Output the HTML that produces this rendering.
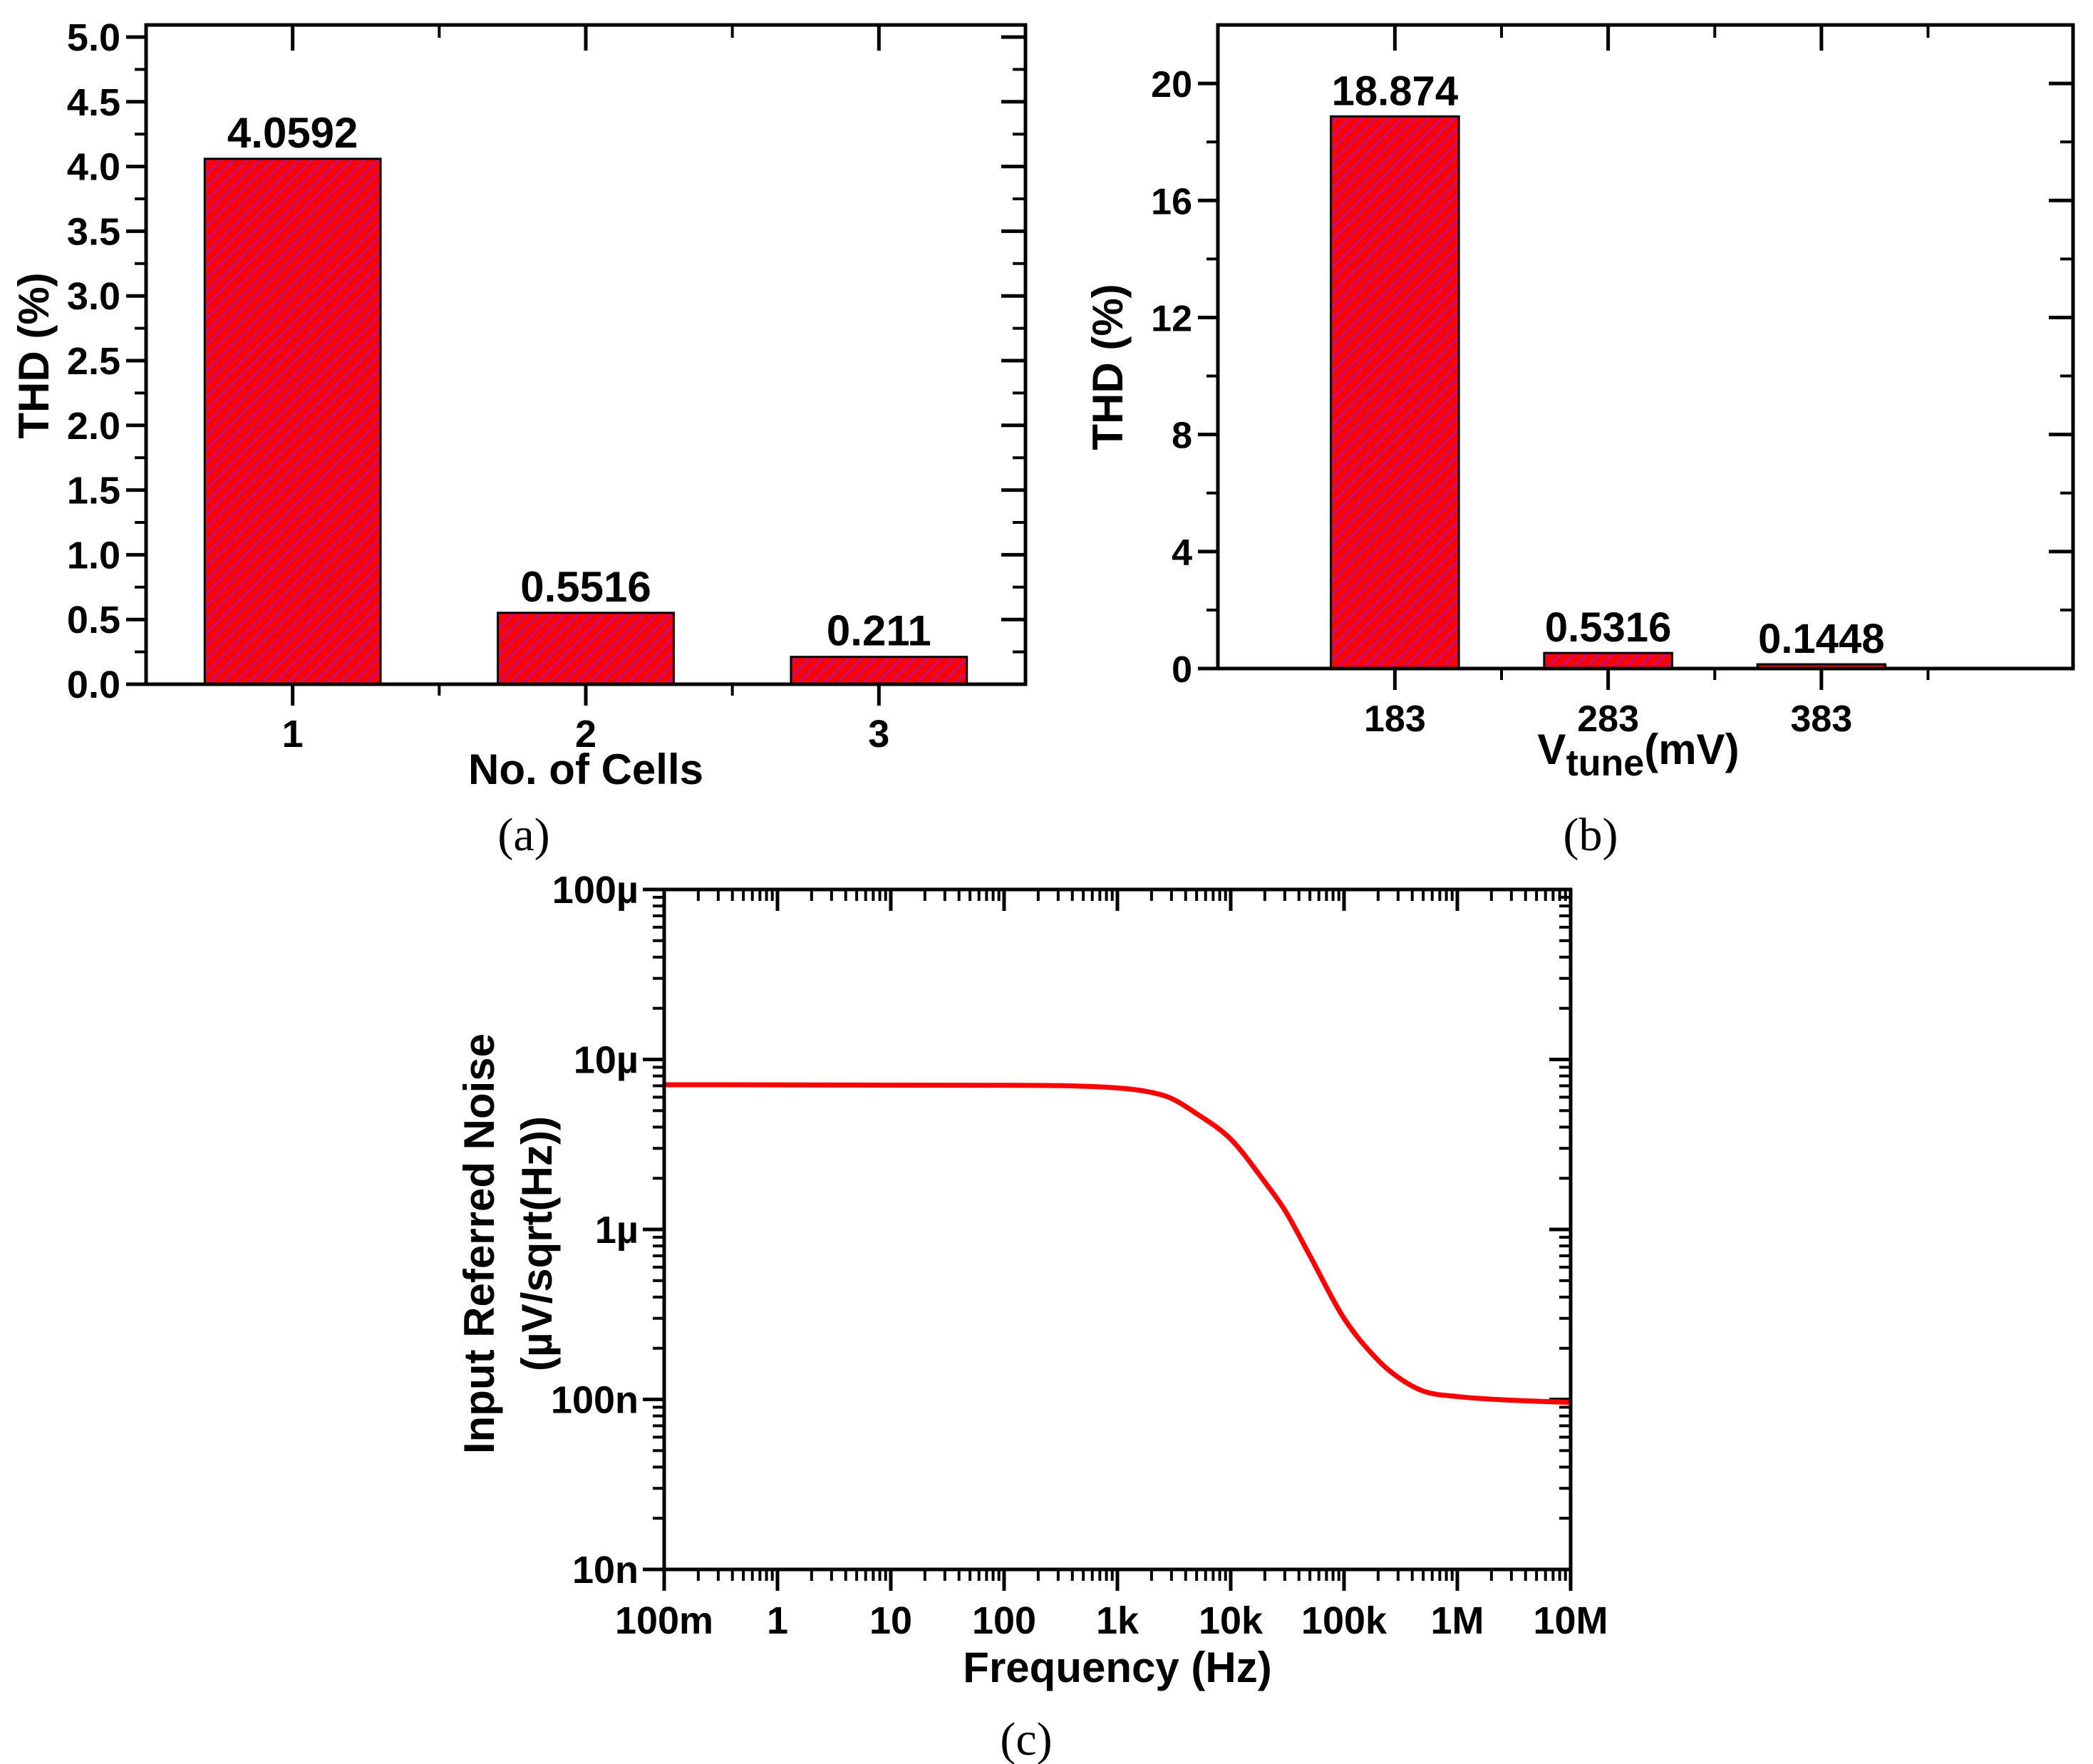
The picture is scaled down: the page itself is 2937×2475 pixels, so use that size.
<!DOCTYPE html>
<html><head><meta charset="utf-8"><style>
html,body{margin:0;padding:0;background:#fff;}
svg{display:block;}
text{font-family:"Liberation Sans",Arial,sans-serif;font-weight:bold;fill:#000;}
.serif{font-family:"Liberation Serif","Times New Roman",serif;font-weight:normal;}
</style></head><body>
<svg id="fig" width="2937" height="2475" viewBox="0 0 2937 2475" xmlns="http://www.w3.org/2000/svg">
<defs>
<pattern id="hatch" patternUnits="userSpaceOnUse" width="13" height="13" patternTransform="rotate(45)">
<rect width="13" height="13" fill="#ff0000"/>
<line x1="0" y1="0" x2="0" y2="13" stroke="#8a1cff" stroke-width="3"/>
</pattern>
</defs>
<g id="chartA"></g>
<g id="chartB"></g>
<g id="chartC"></g>
</svg>
<script>
// ---- Chart (a) data ----
const catsA = ["1","2","3"];
const valsA = [4.0592, 0.5516, 0.211];
const labelsA = ["4.0592","0.5516","0.211"];
const yTicksA = [0,0.5,1,1.5,2,2.5,3,3.5,4,4.5,5];
const yTickLabelsA = ["0.0","0.5","1.0","1.5","2.0","2.5","3.0","3.5","4.0","4.5","5.0"];
// ---- Chart (b) data ----
const catsB = ["183","283","383"];
const valsB = [18.874, 0.5316, 0.1448];
const labelsB = ["18.874","0.5316","0.1448"];
const yTicksB = [0,4,8,12,16,20];
const yTickLabelsB = ["0","4","8","12","16","20"];
// ---- Chart (c) data ----
const freqC = [0.1,100,1000,2000,3000,5000,10000,20000,30000,50000,100000,200000,300000,500000,1e6,3e6,1e7];
const noiseC = [7.1e-6,7.05e-6,6.8e-6,6.4e-6,5.9e-6,4.8e-6,3.4e-6,1.9e-6,1.3e-6,0.7e-6,0.30e-6,0.17e-6,0.135e-6,0.112e-6,0.104e-6,0.099e-6,0.096e-6];
const xTickLabelsC = ["100m","1","10","100","1k","10k","100k","1M","10M"];
const yTickLabelsC = ["10n","100n","1µ","10µ","100µ"];

const NS="http://www.w3.org/2000/svg";
function mk(parent,tag,attrs,txt){const e=document.createElementNS(NS,tag);for(const k in attrs)e.setAttribute(k,attrs[k]);if(txt!==undefined)e.textContent=txt;parent.appendChild(e);return e;}
function ln(p,x1,y1,x2,y2,w){return mk(p,'line',{x1:x1,y1:y1,x2:x2,y2:y2,stroke:'#000','stroke-width':w});}

function barChart(g,cfg){
  const L=cfg.L,R=cfg.R,T=cfg.T,B=cfg.B;
  const xS=c=>L+(c-cfg.x0)/(cfg.x1-cfg.x0)*(R-L);
  const yS=v=>B-(v-cfg.y0)/(cfg.y1-cfg.y0)*(B-cfg.yTop);
  cfg.vals.forEach((v,i)=>{
    const cx=xS(i+1), w=(xS(1.3)-xS(0.7));
    const r=mk(g,'rect',{x:cx-w/2,y:yS(v),width:w,height:B-yS(v),fill:'url(#hatch)',stroke:'#000','stroke-width':3});
    
    
    const t=mk(g,'text',{x:cx,y:yS(v)-16,'text-anchor':'middle','font-size':cfg.vfs},cfg.labels[i]);
    
    
  });
  const fr=mk(g,'rect',{x:L,y:T,width:R-L,height:B-T,fill:'none',stroke:'#000','stroke-width':5});
  
  
  cfg.yTicks.forEach((v,i)=>{
    const y=yS(v);
    ln(g,L-28,y,L,y,5); ln(g,R-34,y,R,y,5);
    const t=mk(g,'text',{x:L-36,y:y+19,'text-anchor':'end','font-size':cfg.tfs},cfg.yLabels[i]);
    
    
    if(i<cfg.yTicks.length-1){const m=yS(v+cfg.minor);ln(g,L-16,m,L,m,4);ln(g,R-18,m,R,m,4);}
  });
  cfg.cats.forEach((c,i)=>{
    const x=xS(i+1);
    ln(g,x,B,x,B+30,5); ln(g,x,T,x,T+36,5);
    const t=mk(g,'text',{x:x,y:cfg.xLabY,'text-anchor':'middle','font-size':cfg.tfs},c);
    
    
    if(i<cfg.cats.length-1){const m=xS(i+1.5);ln(g,m,B,m,B+16,4);ln(g,m,T,m,T+18,4);}
  });
  if(cfg.extraMinor){cfg.extraMinor.forEach(c=>{const m=xS(c);ln(g,m,B,m,B+16,4);ln(g,m,T,m,T+18,4);});}
}

// (a)
const gA=document.getElementById('chartA');
barChart(gA,{L:205,R:1439,T:35,B:960,yTop:52,x0:0.5,x1:3.5,y0:0,y1:5,cats:catsA,vals:valsA,labels:labelsA,yTicks:yTicksA,yLabels:yTickLabelsA,minor:0.25,vfs:60,tfs:54,xLabY:1048});
let t;
t=mk(gA,'text',{x:822,y:1100,'text-anchor':'middle','font-size':60},'No. of Cells');

t=mk(gA,'text',{transform:'translate(68,499) rotate(-90)','text-anchor':'middle','font-size':60},'THD (%)');

t=mk(gA,'text',{x:735,y:1193,'text-anchor':'middle','font-size':66,class:'serif'},'(a)');


// (b)
const gB=document.getElementById('chartB');
barChart(gB,{L:1709,R:2909,T:35,B:938,yTop:35,x0:0.17,x1:4.18,y0:0,y1:22,cats:catsB,vals:valsB,labels:labelsB,yTicks:yTicksB,yLabels:yTickLabelsB,minor:2,vfs:58,tfs:52,xLabY:1026,extraMinor:[3.5]});
t=mk(gB,'text',{x:2299,y:1072,'text-anchor':'middle','font-size':60});

mk(t,'tspan',{},'V');mk(t,'tspan',{dy:16,'font-size':52},'tune');mk(t,'tspan',{dy:-16},'(mV)');
t=mk(gB,'text',{transform:'translate(1575,515) rotate(-90)','text-anchor':'middle','font-size':60},'THD (%)');

t=mk(gB,'text',{x:2232,y:1193,'text-anchor':'middle','font-size':66,class:'serif'},'(b)');


// (c)
const gC=document.getElementById('chartC');
const CL=932,CR=2204,CT=1248,CB=2202;
const xC=f=>CL+(Math.log10(f)+1)/8*(CR-CL);
const yC=v=>CB-(Math.log10(v)+8)/4*(CB-CT);
for(let d=0;d<=8;d++){
  const x=xC(Math.pow(10,d-1));
  ln(gC,x,CB,x,CB+30,5); ln(gC,x,CT,x,CT+30,5);
  t=mk(gC,'text',{x:x,y:2292,'text-anchor':'middle','font-size':54},xTickLabelsC[d]);
  
  if(d<8){for(let k=2;k<=9;k++){const m=xC(k*Math.pow(10,d-1));ln(gC,m,CB,m,CB+16,4);ln(gC,m,CT,m,CT+16,4);}}
}
for(let d=0;d<=4;d++){
  const y=yC(Math.pow(10,d-8));
  ln(gC,CL-30,y,CL,y,5); ln(gC,CR-30,y,CR,y,5);
  t=mk(gC,'text',{x:CL-36,y:y+19,'text-anchor':'end','font-size':54},yTickLabelsC[d]);
  
  if(d<4){for(let k=2;k<=9;k++){const m=yC(k*Math.pow(10,d-8));ln(gC,CL-16,m,CL,m,4);ln(gC,CR-16,m,CR,m,4);}}
}
// monotone cubic (Fritsch-Carlson) in screen space
const P=freqC.map((f,i)=>[xC(f),yC(noiseC[i])]);
const n=P.length, dk=[], m=[];
for(let i=0;i<n-1;i++) dk.push((P[i+1][1]-P[i][1])/(P[i+1][0]-P[i][0]));
m[0]=dk[0]; m[n-1]=dk[n-2];
for(let i=1;i<n-1;i++){ m[i]=(dk[i-1]*dk[i]<=0)?0:(dk[i-1]+dk[i])/2; }
for(let i=0;i<n-1;i++){
  if(dk[i]===0){m[i]=0;m[i+1]=0;continue;}
  const a=m[i]/dk[i], b=m[i+1]/dk[i], s=a*a+b*b;
  if(s>9){const tt=3/Math.sqrt(s);m[i]=tt*a*dk[i];m[i+1]=tt*b*dk[i];}
}
let d='M'+P[0][0]+','+P[0][1];
for(let i=0;i<n-1;i++){
  const h=P[i+1][0]-P[i][0];
  d+=' C'+(P[i][0]+h/3)+','+(P[i][1]+m[i]*h/3)+' '+(P[i+1][0]-h/3)+','+(P[i+1][1]-m[i+1]*h/3)+' '+P[i+1][0]+','+P[i+1][1];
}
const cv=mk(gC,'path',{d:d,fill:'none',stroke:'#ff0000','stroke-width':7,'stroke-linejoin':'round'});


const frC=mk(gC,'rect',{x:CL,y:CT,width:CR-CL,height:CB-CT,fill:'none',stroke:'#000','stroke-width':5});

t=mk(gC,'text',{x:1568,y:2360,'text-anchor':'middle','font-size':60},'Frequency (Hz)');

t=mk(gC,'text',{transform:'translate(693,1745) rotate(-90)','text-anchor':'middle','font-size':60},'Input Referred Noise');

t=mk(gC,'text',{transform:'translate(774,1745) rotate(-90)','text-anchor':'middle','font-size':60},'(µV/sqrt(Hz))');

t=mk(gC,'text',{x:1440,y:2462,'text-anchor':'middle','font-size':66,class:'serif'},'(c)');

</script>
</body></html>
